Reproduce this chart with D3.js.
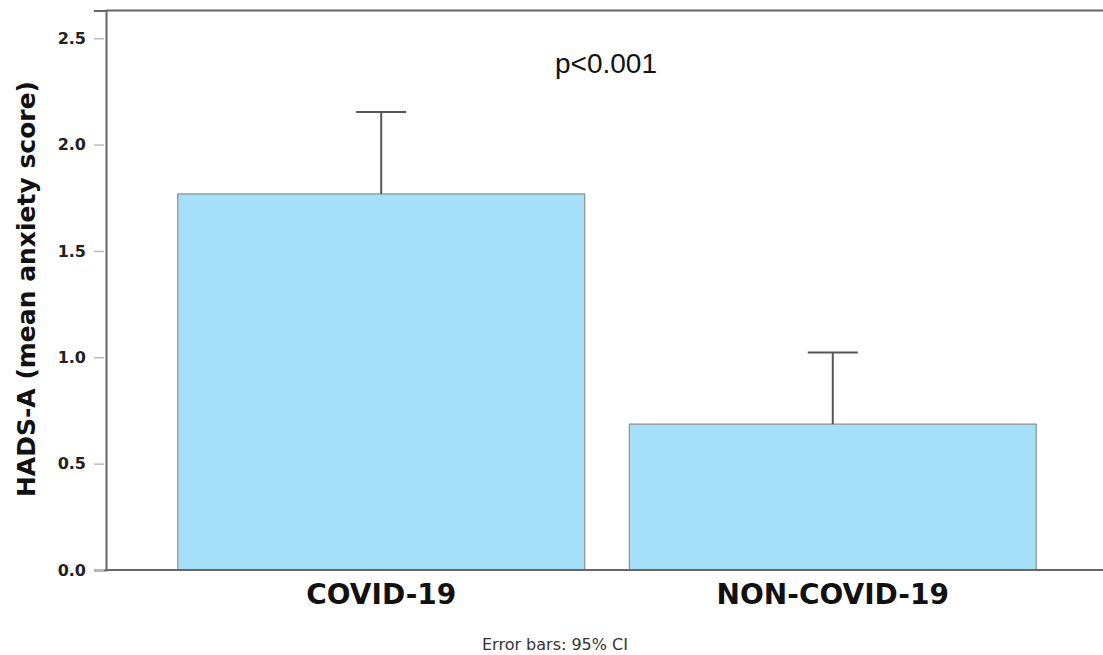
<!DOCTYPE html>
<html>
<head>
<meta charset="utf-8">
<script src="https://cdn.jsdelivr.net/npm/d3@7"></script>
<style>
  html, body { margin: 0; padding: 0; background: #fff; }
  svg { display: block; }
</style>
</head>
<body>
<svg id="chart" width="1103" height="655"></svg>
<script>
// Groups, mean HADS-A scores and upper 95% CI bounds
const groups = ["COVID-19", "NON-COVID-19"];
const means = [1.768, 0.686];
const ciUpper = [2.153, 1.022];
const yTicks = [0.0, 0.5, 1.0, 1.5, 2.0, 2.5];
const yTitle = "HADS-A (mean anxiety score)";
const pLabel = "p<0.001";
const footnote = "Error bars: 95% CI";

const svg = d3.select("#chart");
const plotLeft = 106, plotRight = 1108, plotTop = 10.6, plotBottom = 570;

const x = d3.scaleBand()
  .domain(groups)
  .range([plotLeft, plotRight])
  .paddingInner(0.099)
  .paddingOuter(0.159);

const y = d3.scaleLinear()
  .domain([0, 2.63])
  .range([plotBottom, plotTop]);

// bars
svg.append("g")
  .selectAll("rect")
  .data(groups)
  .join("rect")
  .attr("x", d => x(d))
  .attr("y", (d, i) => y(means[i]))
  .attr("width", x.bandwidth())
  .attr("height", (d, i) => y(0) - y(means[i]))
  .attr("fill", "#a6dff8")
  .attr("stroke", "#8a8f92")
  .attr("stroke-width", 1.2);

// upper whiskers of the confidence intervals
const eb = svg.append("g").attr("stroke", "#555").attr("stroke-width", 2).attr("fill", "none");
groups.forEach((g, i) => {
  const cx = x(g) + x.bandwidth() / 2;
  eb.append("line").attr("x1", cx).attr("x2", cx).attr("y1", y(means[i])).attr("y2", y(ciUpper[i]));
  eb.append("line").attr("x1", cx - 25).attr("x2", cx + 25).attr("y1", y(ciUpper[i])).attr("y2", y(ciUpper[i]));
});

// frame: top edge and bottom axis
const frame = svg.append("g").attr("stroke", "#666").attr("stroke-width", 2);
frame.append("line").attr("x1", plotLeft).attr("x2", plotRight).attr("y1", y.range()[1]).attr("y2", y.range()[1]);
frame.append("line").attr("x1", plotLeft).attr("x2", plotRight).attr("y1", y(0)).attr("y2", y(0));

const yAxis = svg.append("g")
  .attr("transform", `translate(${plotLeft},0)`)
  .call(d3.axisLeft(y).tickValues(yTicks).tickFormat(d3.format(".1f")).tickSize(12).tickPadding(8));
yAxis.select(".domain").attr("stroke", "#666").attr("stroke-width", 2);
yAxis.selectAll(".tick line").attr("stroke", "#bbb").attr("stroke-width", 1.5).attr("x2", -2).attr("x1", -12);
yAxis.selectAll(".tick text")
  .attr("x", -20)
  .attr("font-family", "DejaVu Sans")
  .attr("font-weight", "bold")
  .attr("font-size", 16)
  .attr("fill", "#222");

// category labels
const xAxis = svg.append("g")
  .attr("transform", `translate(0,${plotBottom})`)
  .call(d3.axisBottom(x).tickSize(0).tickPadding(14));
xAxis.select(".domain").remove();
xAxis.selectAll(".tick text")
  .attr("font-family", "DejaVu Sans")
  .attr("font-weight", "bold")
  .attr("font-size", 28)
  .attr("fill", "#111");

// y axis title
svg.append("text")
  .attr("transform", "translate(35,289) rotate(-90)")
  .attr("text-anchor", "middle")
  .attr("font-family", "DejaVu Sans")
  .attr("font-weight", "bold")
  .attr("font-size", 25)
  .attr("fill", "#111")
  .text(yTitle);

// significance label
svg.append("text")
  .attr("x", 606)
  .attr("y", 73)
  .attr("text-anchor", "middle")
  .attr("font-family", "Liberation Sans")
  .attr("font-size", 28)
  .attr("fill", "#111")
  .text(pLabel);

// footnote
svg.append("text")
  .attr("x", 555)
  .attr("y", 650)
  .attr("text-anchor", "middle")
  .attr("font-family", "DejaVu Sans")
  .attr("font-size", 16)
  .attr("fill", "#333")
  .text(footnote);
</script>
</body>
</html>
